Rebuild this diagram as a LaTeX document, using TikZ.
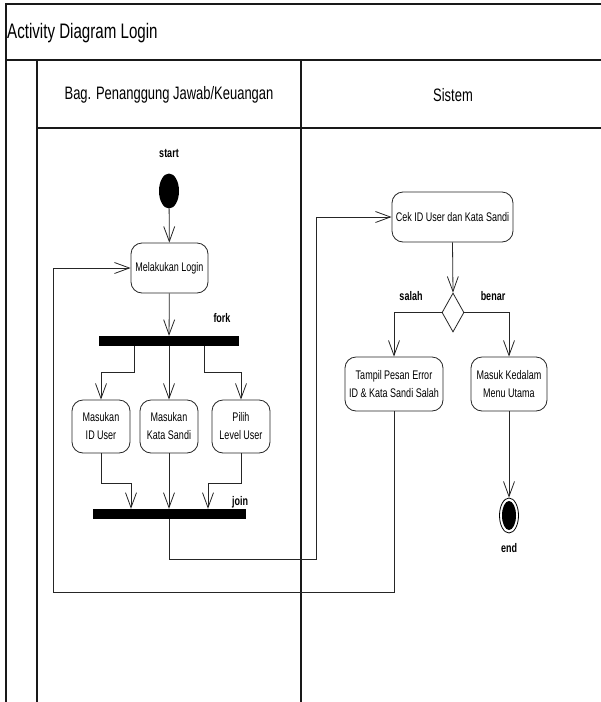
\documentclass[tikz,border=0pt]{standalone}
\usepackage{fontspec}
\newfontfamily\nar[FakeStretch=0.72]{Liberation Sans}
\usetikzlibrary{shapes.geometric,arrows.meta}
\begin{document}
\begin{tikzpicture}[x=1pt,y=-1pt,
  frame/.style={line width=1.3pt,draw=black!90},
  act/.style={draw=black!85,line width=0.8pt,rounded corners=11pt,align=center,
    inner sep=0pt,font=\nar\fontsize{12.5}{18}\selectfont},
  bar/.style={fill=black,inner sep=0pt,minimum height=10pt},
  lbl/.style={font=\nar\bfseries\fontsize{12.5}{15}\selectfont,inner sep=0pt},
  flow/.style={draw=black!85,line width=0.8pt,-{Straight Barb[length=15pt,width=11pt,line width=0.8pt]}},
  link/.style={draw=black!85,line width=0.8pt}]
\useasboundingbox (0,0) rectangle (601,702);
\fill[white] (0,0) rectangle (601,702);

% swimlane frame
\draw[frame] (6,702) -- (6,4) -- (601,4);
\draw[frame] (6,60) -- (601,60);
\draw[frame] (37,60) -- (37,702);
\draw[frame] (37,128) -- (601,128);
\draw[frame] (301,60) -- (301,702);
\node[anchor=west,inner sep=0pt,font=\nar\fontsize{21}{24}\selectfont] (title) at (7,33) {Activity Diagram Login};
\node[font=\nar\fontsize{18}{22}\selectfont,inner sep=0pt] (lane1) at (169,95) {Bag. Penanggung Jawab/Keuangan};
\node[font=\nar\fontsize{18}{22}\selectfont,inner sep=0pt] (lane2) at (453,95) {Sistem};

% nodes of the user lane
\node[ellipse,fill=black,inner sep=0pt,minimum width=20pt,minimum height=35pt] (start) at (169,191) {};
\node[lbl] (startl) at (169,153) {start};
\node[act,minimum width=77pt,minimum height=50pt] (login) at (169.5,268) {Melakukan Login};
\node[bar,minimum width=140pt] (fork) at (169,341) {};
\node[lbl] (forkl) at (222,318) {fork};
\node[act,minimum width=58pt,minimum height=53pt] (iduser) at (101,426.5) {Masukan\\ID User};
\node[act,minimum width=58pt,minimum height=53pt] (sandi) at (169,426.5) {Masukan\\Kata Sandi};
\node[act,minimum width=58pt,minimum height=53pt] (level) at (241,426.5) {Pilih\\Level User};
\node[bar,minimum width=153pt] (join) at (169.5,514) {};
\node[lbl] (joinl) at (240,502) {join};

% nodes of the system lane
\node[act,minimum width=121pt,minimum height=50pt] (cek) at (452.5,217) {Cek ID User dan Kata Sandi};
\node[diamond,draw=black!85,line width=0.8pt,inner sep=0pt,minimum width=22pt,minimum height=39pt] (dec) at (453,312.5) {};
\node[lbl] (salah) at (411,296) {salah};
\node[lbl] (benar) at (493,296) {benar};
\node[act,minimum width=98pt,minimum height=54pt] (error) at (394,384) {Tampil Pesan Error\\ID \& Kata Sandi Salah};
\node[act,minimum width=76pt,minimum height=54pt] (menu) at (509,384) {Masuk Kedalam\\Menu Utama};
\node[ellipse,draw=black,line width=0.8pt,fill=white,inner sep=0pt,minimum width=19pt,minimum height=35pt] (end) at (509,515.5) {};
\node[ellipse,fill=black,inner sep=0pt,minimum width=14pt,minimum height=29pt] (endin) at (509,515.5) {};
\node[lbl] (endl) at (509,548) {end};

\coordinate (jx) at (316,559);
\coordinate (lx) at (53,592);

% control flows
\draw[flow] (start) -- (login);
\draw[flow] (login) -- (fork);
\draw[flow] ([xshift=-35pt]fork.south) -- ++(0,26) -| (iduser.north);
\draw[flow] (fork.south) -- (sandi.north);
\draw[flow] ([xshift=35pt]fork.south) -- ++(0,26) -| (level.north);
\draw[flow] (iduser.south) -- ++(0,30) -| ([xshift=-38.5pt]join.north);
\draw[flow] (sandi.south) -- (sandi.south |- join.north);
\draw[flow] (level.south) -- ++(0,30) -| ([xshift=38.5pt]join.north);
\draw[flow] (join.south) |- (jx) |- (cek.west);
\draw[flow] (cek.south) -- (dec.north);
\draw[flow] (dec.west) -| (error.north);
\draw[flow] (dec.east) -| (menu.north);
\draw[flow] (menu.south) -- (end.north);
\draw[flow] (error.south) |- (lx) |- (login.west);
\end{tikzpicture}
\end{document}
